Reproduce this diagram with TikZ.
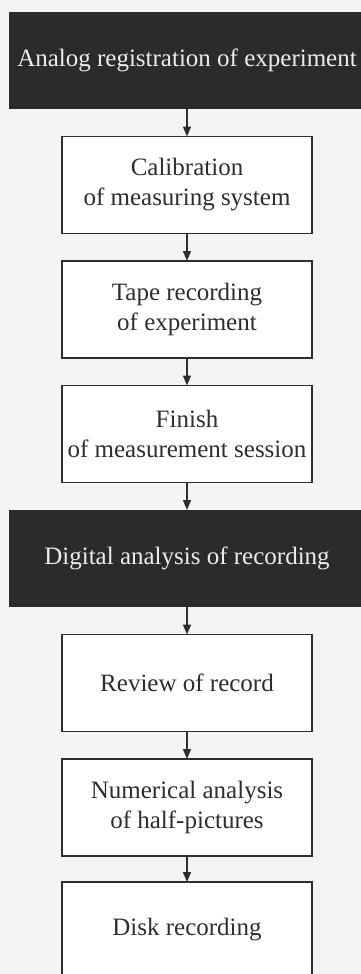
\documentclass[tikz,border=0pt]{standalone}
\usepackage{fontspec}
\setmainfont{Liberation Serif}
\usetikzlibrary{arrows.meta, positioning}
\definecolor{paperbg}{HTML}{F4F4F2}
\definecolor{darkfill}{HTML}{2B2B2E}
\definecolor{inkgray}{HTML}{2E2E2E}
\definecolor{lighttext}{HTML}{ECECEC}

\begin{document}
\begin{tikzpicture}[
    x=1pt, y=1pt,
    node distance=27.5pt,
    >={Triangle[length=10pt, width=8pt]},
    phase/.style={fill=darkfill, minimum width=356pt, minimum height=97pt,
                  text=lighttext, inner sep=0pt, outer sep=0pt, align=center,
                  font=\fontsize{25}{30}\selectfont},
    task/.style={draw=inkgray, fill=white, line width=1.5pt, minimum width=250pt,
                 minimum height=97pt, text=inkgray, inner sep=0pt, outer sep=0pt,
                 align=center, font=\fontsize{25}{30}\selectfont},
    arr/.style={->, draw=inkgray, line width=1.6pt},
]

% page
\useasboundingbox (0,0) rectangle (361,-974);
\clip (0,0) rectangle (361,-974);
\fill[paperbg] (0,0) rectangle (361,-974);

% Analog part
\node[phase] (analog) at (187,-60.5) {Analog registration of experiment};
\node[task, below=of analog] (calib) {Calibration\\of measuring system};
\node[task, below=of calib] (tape) {Tape recording\\of experiment};
\node[task, below=of tape] (finish) {Finish\\of measurement session};

% Digital part
\node[phase, below=of finish] (digital) {Digital analysis of recording};
\node[task, below=of digital] (review) {Review of record};
\node[task, below=of review] (numer) {Numerical analysis\\of half-pictures};
% last box runs off the page
\node[task, below=26pt of numer, minimum height=200pt, text depth=110pt] (disk) {Disk recording};

% Arrows
\draw[arr] (analog) -- (calib);
\draw[arr] (calib) -- (tape);
\draw[arr] (tape) -- (finish);
\draw[arr] (finish) -- (digital);
\draw[arr] (digital) -- (review);
\draw[arr] (review) -- (numer);
\draw[arr] (numer) -- (disk);

\end{tikzpicture}
\end{document}
